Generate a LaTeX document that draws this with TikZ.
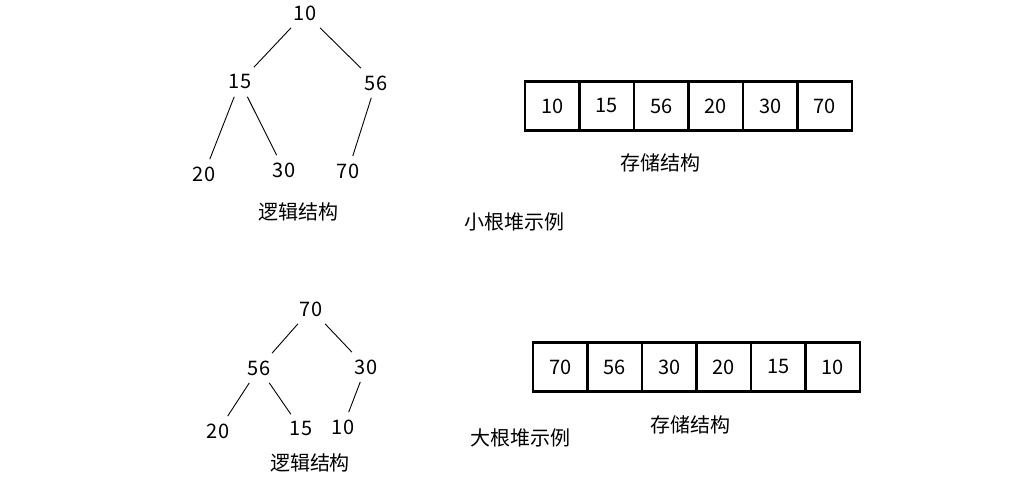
\documentclass[tikz,border=0pt]{standalone}
\usepackage{fontspec}
\setmainfont{Noto Sans CJK SC}
\usetikzlibrary{positioning}

\begin{document}
\begin{tikzpicture}[x=0.5pt, y=-0.5pt, line width=0.45pt, font=\fontsize{10}{12}\selectfont,
  num/.style={inner sep=3.5pt},
  cell/.style={draw, line width=1.1pt, minimum width=27.25pt, minimum height=24.5pt, inner sep=0pt}]
\useasboundingbox (0,0) rectangle (1030,496);
% -- small root heap: tree --
\node[num] (a10) at (305,13) {10};
\node[num] (a15) at (240,82) {15};
\node[num] (a56) at (376,83) {56};
\node[num] (a20) at (204,174) {20};
\node[num] (a30) at (284,170) {30};
\node[num] (a70) at (348,171) {70};
\draw (a10) -- (a15);
\draw (a10) -- (a56);
\draw (a15) -- (a20);
\draw (a15) -- (a30);
\draw (a56) -- (a70);
\node (alogic) at (298,212) {逻辑结构};
% -- small root heap: array --
\foreach \v [count=\i] in {10,15,56,20,30,70}
  \node[cell] (acell\i) at ({552.25+54.5*(\i-1)},106) {\v};
\node (astore) at (660,163) {存储结构};
\node (atitle) at (514,222) {小根堆示例};
% -- big root heap: tree --
\node[num] (b70) at (311,309) {70};
\node[num] (b56) at (259,368) {56};
\node[num] (b30) at (366,367) {30};
\node[num] (b20) at (218,431) {20};
\node[num] (b15) at (301,429) {15};
\node[num] (b10) at (343,427) {10};
\draw (b70) -- (b56);
\draw (b70) -- (b30);
\draw (b56) -- (b20);
\draw (b56) -- (b15);
\draw (b30) -- (b10);
\node (blogic) at (310,463) {逻辑结构};
% -- big root heap: array --
\foreach \v [count=\i] in {70,56,30,20,15,10}
  \node[cell] (bcell\i) at ({560.25+54.5*(\i-1)},367) {\v};
\node (bstore) at (690,425) {存储结构};
\node (btitle) at (520,438) {大根堆示例};
\end{tikzpicture}
\end{document}
